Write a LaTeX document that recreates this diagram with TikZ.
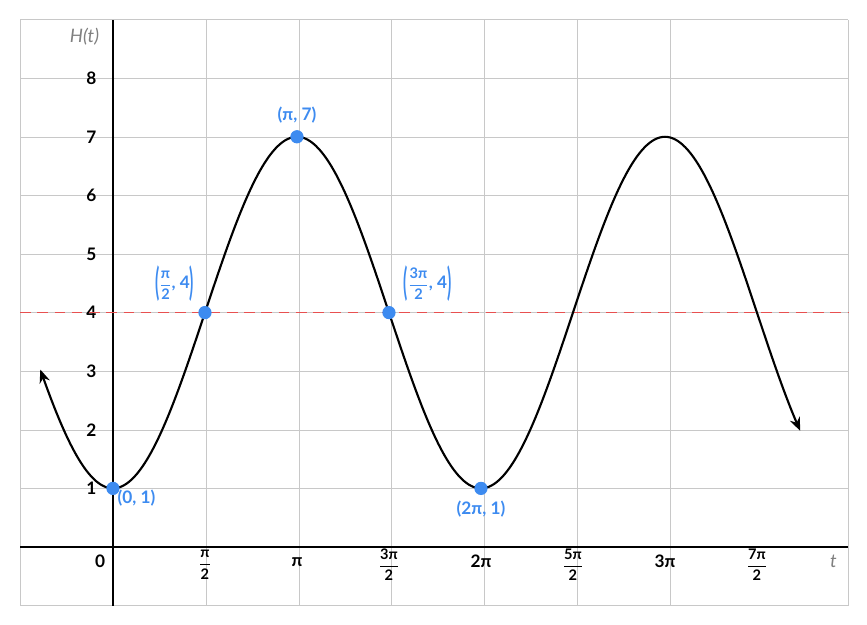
\documentclass[tikz,border=0pt]{standalone}
\usepackage{fontspec}
\setmainfont{Lato}
\usetikzlibrary{arrows.meta}
\definecolor{ptblue}{HTML}{3D8BF0}
\definecolor{gridc}{HTML}{C8C8C8}
\definecolor{dashred}{HTML}{E85050}
\newcommand{\myfr}[2]{$\displaystyle\frac{\mbox{\fontsize{11}{11}\selectfont\bfseries#1}}{\mbox{\fontsize{11}{11}\selectfont\bfseries#2}}$}
\newcommand{\bigpar}[1]{\raisebox{-0.7ex}{\scalebox{0.9}[2.2]{#1}}}
\tikzset{lab/.style={font=\fontsize{13}{15}\selectfont\bfseries},
  bl/.style={lab,text=ptblue},
  dot/.style={circle,fill=ptblue,inner sep=0pt,minimum size=10pt}}
\begin{document}
\begin{tikzpicture}[x=2.438cm,y=1.553cm]
\useasboundingbox (-1.228,-1.331) rectangle (8.196,9.334);
\foreach \x in {-1.01,0,...,7,7.99} \draw[gridc] (\x,-1) -- (\x,9);
\foreach \y in {-1,...,9} \draw[gridc] (-1.01,\y) -- (7.99,\y);
\draw[thick] (-1.01,0) -- (7.99,0);
\draw[thick] (0,-1) -- (0,9);
\foreach \y in {1,...,8} \node[lab,anchor=east] (y\y) at (-0.13,\y) {\y};
\node[lab] (z) at (-0.14,-0.25) {0};
\node[lab] (xa) at (1,-0.3) {\myfr{π}{2}};
\node[lab] (xb) at (2,-0.25) {π};
\node[lab] (xc) at (3,-0.3) {\myfr{3π}{2}};
\node[lab] (xd) at (4,-0.25) {2π};
\node[lab] (xe) at (5,-0.3) {\myfr{5π}{2}};
\node[lab] (xf) at (6,-0.25) {3π};
\node[lab] (xg) at (7,-0.3) {\myfr{7π}{2}};
\node[text=gray,font=\fontsize{14}{15}\selectfont\itshape] (tl) at (7.83,-0.25) {t};
\node[text=gray,font=\fontsize{14}{15}\selectfont\itshape] (hl) at (-0.31,8.7) {H(t)};
\draw[dashred,dashed,dash pattern=on 8pt off 5pt,thick] (-1.01,4) -- (7.99,4);
\draw[line width=1.6pt,{Stealth[length=10pt,width=8pt]}-{Stealth[length=10pt,width=8pt]},smooth,samples=150,domain=-0.79:7.47]
  plot (\x,{4-3*cos(\x*90)});
\node[dot] (p0) at (0,1) {};
\node[dot] (p1) at (1,4) {};
\node[dot] (p2) at (2,7) {};
\node[dot] (p3) at (3,4) {};
\node[dot] (p4) at (4,1) {};
\node[bl,anchor=west] (l0) at (0.0,0.83) {(0, 1)};
\node[bl] (l1) at (0.67,4.5) {\bigpar{(}\myfr{π}{2}, 4\bigpar{)}};
\node[bl] (l2) at (2,7.37) {(π, 7)};
\node[bl] (l3) at (3.42,4.5) {\bigpar{(}\myfr{3π}{2}, 4\bigpar{)}};
\node[bl] (l4) at (4,0.65) {(2π, 1)};
\end{tikzpicture}
\end{document}
